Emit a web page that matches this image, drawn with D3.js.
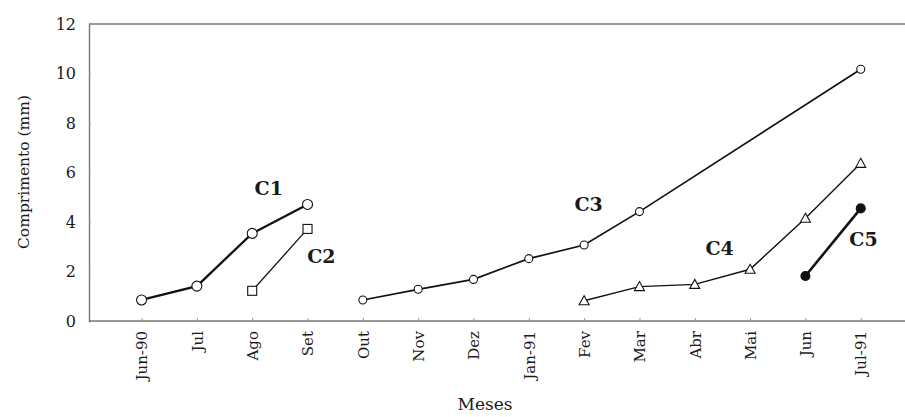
<!DOCTYPE html>
<html><head><meta charset="utf-8">
<script src="https://cdn.jsdelivr.net/npm/d3@7"></script>
<style>
body{margin:0;background:#fff;}
svg{display:block;}
text{font-family:"DejaVu Serif","Liberation Serif",serif;fill:#1a1a1a;}
</style></head>
<body>
<svg id="c" width="905" height="417"></svg>
<script>
const months = ["Jun-90","Jul","Ago","Set","Out","Nov","Dez","Jan-91","Fev","Mar","Abr","Mai","Jun","Jul-91"];
const yTicks = [0,2,4,6,8,10,12];
const c1Months = ["Jun-90","Jul","Ago","Set"];
const c1Values = [0.85,1.41,3.54,4.71];
const c2Months = ["Ago","Set"];
const c2Values = [1.22,3.72];
const c3Months = ["Out","Nov","Dez","Jan-91","Fev","Mar","Jul-91"];
const c3Values = [0.85,1.28,1.68,2.52,3.07,4.42,10.17];
const c4Months = ["Fev","Mar","Abr","Mai","Jun","Jul-91"];
const c4Values = [0.82,1.39,1.48,2.09,4.15,6.37];
const c5Months = ["Jun","Jul-91"];
const c5Values = [1.82,4.55];
const seriesNames = ["C1","C2","C3","C4","C5"];

const svg = d3.select("#c");
const L = 89, R = 905, T = 24, B = 321;
const x = d3.scaleLinear().domain([-0.95, 13.8]).range([L, R]);
const xm = m => x(months.indexOf(m));
const y = d3.scaleLinear().domain([0, 12]).range([B, T]);

// frame
svg.append("line").attr("x1",L).attr("x2",R).attr("y1",T).attr("y2",T).attr("stroke","#777").attr("stroke-width",1.4);
const yAxis = svg.append("g").attr("transform",`translate(${L},0)`)
  .call(d3.axisLeft(y).tickValues(yTicks).tickSize(-2).tickPadding(13).tickFormat(d3.format("d")));
yAxis.select(".domain").attr("stroke","#777").attr("stroke-width",1.4);
yAxis.selectAll(".tick line").attr("stroke","#999");
yAxis.selectAll("text").attr("font-size",16).attr("fill","#1a1a1a");

const xAxis = svg.append("g").attr("transform",`translate(0,${B})`)
  .call(d3.axisBottom(x).tickValues(d3.range(months.length)).tickSize(-3).tickFormat(i=>months[i]));
xAxis.select(".domain").attr("d",`M${L},0H${R}`).attr("stroke","#777").attr("stroke-width",1.4);
xAxis.selectAll(".tick line").attr("stroke","#999");
xAxis.selectAll("text").attr("font-size",15).attr("fill","#1a1a1a")
  .attr("text-anchor","end").attr("transform","rotate(-90)")
  .attr("x",-10).attr("y",0).attr("dy","0.35em");

svg.append("text").attr("x",485).attr("y",410).attr("text-anchor","middle").attr("font-size",17).text("Meses");
svg.append("text").attr("transform","translate(24,172) rotate(-90)").attr("text-anchor","middle")
  .attr("dy","0.35em").attr("font-size",15.5).text("Comprimento (mm)");

const line = d3.line().x(d=>xm(d.m)).y(d=>y(d.v));
const mk = (ms, vs) => ms.map((m,i)=>({m, v: vs[i]}));
const series = [
  {name:"C1", data:mk(c1Months,c1Values), w:2.3, marker:"circle", r:5, fill:"#fff"},
  {name:"C2", data:mk(c2Months,c2Values), w:1.3, marker:"square", r:4.5, fill:"#fff"},
  {name:"C3", data:mk(c3Months,c3Values), w:1.7, marker:"circle", r:4, fill:"#fff"},
  {name:"C4", data:mk(c4Months,c4Values), w:1.4, marker:"triangle", r:5, fill:"#fff"},
  {name:"C5", data:mk(c5Months,c5Values), w:2.6, marker:"circle", r:4.5, fill:"#111"}
];
series.forEach(s=>{
  svg.append("path").datum(s.data).attr("d",line).attr("fill","none").attr("stroke","#111").attr("stroke-width",s.w);
  const g = svg.append("g");
  s.data.forEach(d=>{
    const cx = xm(d.m), cy = y(d.v);
    if (s.marker==="circle") g.append("circle").attr("cx",cx).attr("cy",cy).attr("r",s.r).attr("fill",s.fill).attr("stroke","#111").attr("stroke-width",1.1);
    else if (s.marker==="square") g.append("rect").attr("x",cx-s.r).attr("y",cy-s.r).attr("width",2*s.r).attr("height",2*s.r).attr("fill",s.fill).attr("stroke","#111").attr("stroke-width",1.1);
    else g.append("path").attr("d",`M${cx},${cy-s.r}L${cx+s.r},${cy+s.r*0.8}L${cx-s.r},${cy+s.r*0.8}Z`).attr("fill",s.fill).attr("stroke","#111").attr("stroke-width",1.1);
  });
});

// series labels
const labelPos = [
  {name:"C1", m:"Jul", dm:1.3, v:5.35},
  {name:"C2", m:"Set", dm:0.25, v:2.6},
  {name:"C3", m:"Fev", dm:0.08, v:4.7},
  {name:"C4", m:"Abr", dm:0.45, v:2.95},
  {name:"C5", m:"Jul-91", dm:0.05, v:3.3}
];
labelPos.forEach(p=>{
  svg.append("text").attr("x", x(months.indexOf(p.m)+p.dm)).attr("y", y(p.v)).attr("text-anchor","middle")
    .attr("dy","0.35em").attr("font-size",19).attr("font-weight","bold").text(p.name);
});
</script>
</body></html>
